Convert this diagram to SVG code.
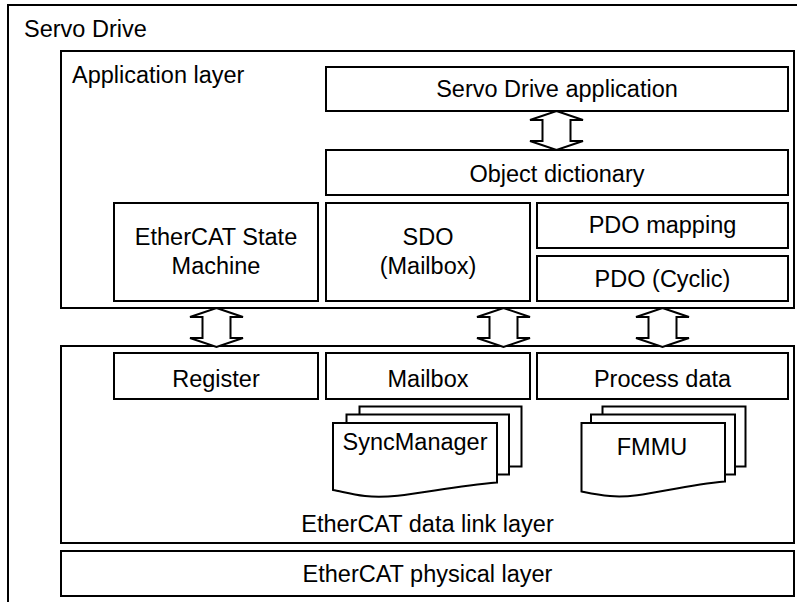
<svg xmlns="http://www.w3.org/2000/svg" width="797" height="602" viewBox="0 0 797 602">
<style>
.b{fill:#fff;stroke:#000;stroke-width:2}
.t{font-family:"Liberation Sans",Arial,sans-serif;font-size:23.5px;fill:#000}
.c{text-anchor:middle}
.ar{fill:#fff;stroke:#000;stroke-width:2;stroke-linejoin:miter}
</style>
<defs>
<path id="dbl" d="M0,0 L26.5,9 L14,9 L14,30 L26.5,30 L0,39 L-26.5,30 L-14,30 L-14,9 L-26.5,9 Z"/>
</defs>
<rect width="797" height="602" fill="#fff"/>
<g id="servo-drive">
<rect class="b" x="8" y="5" width="800" height="610"/>
<text class="t" x="24" y="37">Servo Drive</text>
</g>
<g id="application-layer">
<rect class="b" x="61" y="51" width="733" height="257"/>
<text class="t" x="72" y="83">Application layer</text>
</g>
<g id="servo-drive-application">
<rect class="b" x="326" y="67" width="462" height="44"/>
<text class="t c" x="557" y="97">Servo Drive application</text>
</g>
<g id="object-dictionary">
<rect class="b" x="326" y="150" width="462" height="45"/>
<text class="t c" x="557" y="182">Object dictionary</text>
</g>
<g id="esm">
<rect class="b" x="114" y="203" width="204" height="98"/>
<text class="t c" x="216" y="245">EtherCAT State</text>
<text class="t c" x="216" y="274">Machine</text>
</g>
<g id="sdo">
<rect class="b" x="326" y="203" width="204" height="98"/>
<text class="t c" x="428" y="245">SDO</text>
<text class="t c" x="428" y="274">(Mailbox)</text>
</g>
<g id="pdo-mapping">
<rect class="b" x="537" y="203" width="251" height="45"/>
<text class="t c" x="662.5" y="233">PDO mapping</text>
</g>
<g id="pdo-cyclic">
<rect class="b" x="537" y="256" width="251" height="45"/>
<text class="t c" x="662.5" y="287">PDO (Cyclic)</text>
</g>
<g id="data-link-layer">
<rect class="b" x="61" y="346" width="733" height="197"/>
<text class="t c" x="427.5" y="532">EtherCAT data link layer</text>
</g>
<g id="register">
<rect class="b" x="114" y="353" width="204" height="46"/>
<text class="t c" x="216" y="387">Register</text>
</g>
<g id="mailbox">
<rect class="b" x="326" y="353" width="204" height="46"/>
<text class="t c" x="428" y="387">Mailbox</text>
</g>
<g id="process-data">
<rect class="b" x="537" y="353" width="251" height="46"/>
<text class="t c" x="662.5" y="387">Process data</text>
</g>
<g id="syncmanager">
<rect class="b" x="359.5" y="406.5" width="162" height="60"/>
<rect class="b" x="346.5" y="414.5" width="162.5" height="60"/>
<path class="b" d="M333,423 L497,423 L497,482.5 C440,487 400,500 365,496 C350,494 340,491 333,490 Z"/>
<text class="t c" x="415" y="450">SyncManager</text>
</g>
<g id="fmmu">
<rect class="b" x="602.5" y="406.5" width="143" height="60"/>
<rect class="b" x="591" y="414.5" width="144" height="60"/>
<path class="b" d="M581.5,423 L725,423 L725,481.5 C675,486 640,499 610,496 C598,495 589,493 581.5,491.5 Z"/>
<text class="t c" x="652" y="455">FMMU</text>
</g>
<g id="physical-layer">
<rect class="b" x="61" y="551" width="733" height="45"/>
<text class="t c" x="427.5" y="582">EtherCAT physical layer</text>
</g>
<g id="connectors">
<use href="#dbl" class="ar" x="556.5" y="111"/>
<use href="#dbl" class="ar" x="216.5" y="308" transform="translate(0,0)"/>
<use href="#dbl" class="ar" x="503.5" y="308"/>
<use href="#dbl" class="ar" x="662.5" y="308"/>
</g>
</svg>
